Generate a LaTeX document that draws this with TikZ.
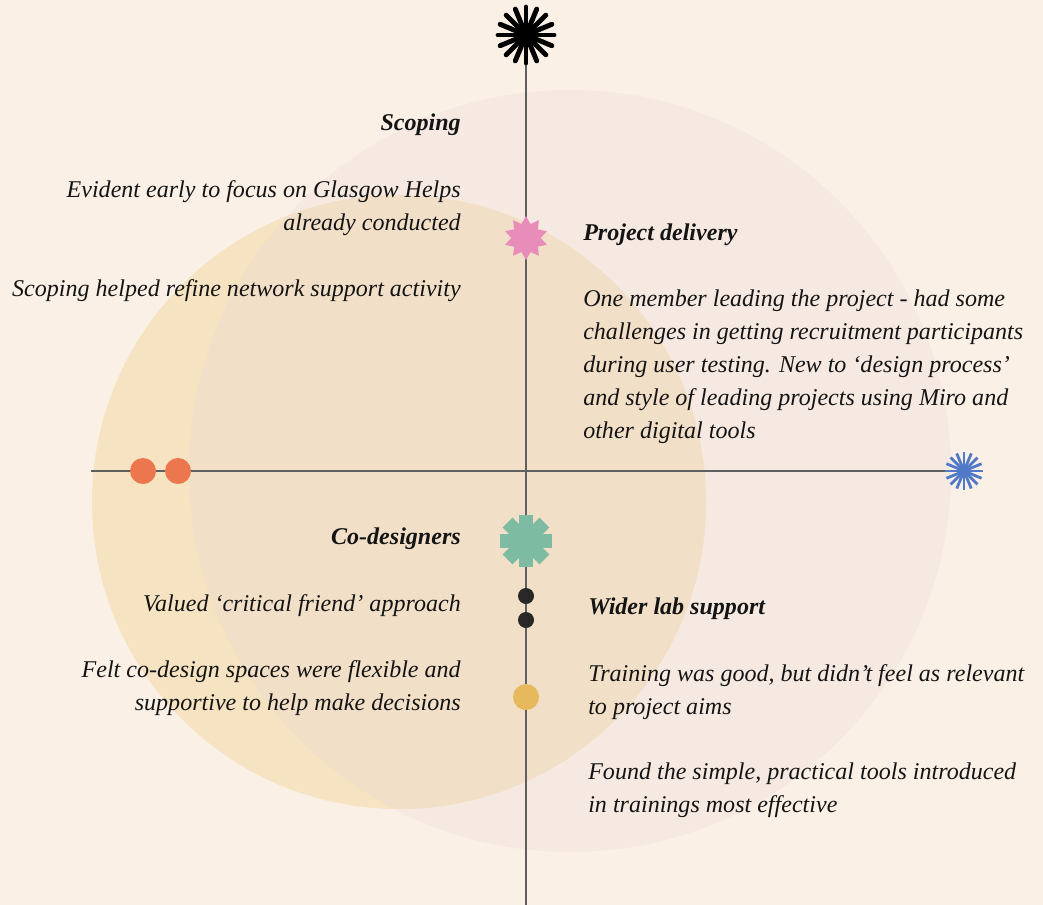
\documentclass[tikz,border=0pt]{standalone}
\usepackage{fontspec}
\setmainfont{Liberation Serif}
\usetikzlibrary{shapes.geometric}
\definecolor{paper}{RGB}{250,240,230}
\definecolor{blush}{RGB}{246,233,226}
\definecolor{sand}{RGB}{245,227,193}
\definecolor{overlap}{RGB}{242,223,200}
\definecolor{axisgrey}{RGB}{95,95,95}
\definecolor{ink}{RGB}{20,20,20}
\definecolor{rose}{RGB}{232,140,186}
\definecolor{sage}{RGB}{126,187,163}
\definecolor{coral}{RGB}{236,118,78}
\definecolor{mustard}{RGB}{229,185,92}
\definecolor{charcoal}{RGB}{40,40,40}
\definecolor{cornflower}{RGB}{80,122,200}
\tikzset{
  note/.style={font=\fontsize{17.1}{23.4}\selectfont\itshape, inner sep=0pt, text=ink},
  head/.style={note, font=\fontsize{17.1}{23.4}\selectfont\itshape\bfseries},
  dot/.style={circle, inner sep=0pt, minimum size=#1},
  axis/.style={draw=axisgrey, line width=1.4pt},
}
\begin{document}
\begin{tikzpicture}[x=0.025cm, y=-0.025cm]
\useasboundingbox (0,0) rectangle (1043,905);
\fill[paper] (0,0) rectangle (1043,905);
% circles
\fill[blush] (570,471) circle (381);
\fill[sand] (399,502) circle (307);
\begin{scope}
\clip (570,471) circle (381);
\fill[overlap] (399,502) circle (307);
\end{scope}
% axes
\coordinate (top) at (526,35);
\coordinate (bot) at (526,905);
\coordinate (west) at (91,471);
\coordinate (east) at (964,471);
\draw[axis] (top) -- (bot);
\draw[axis] (west) -- (east);
% markers
\foreach \a in {0,22.5,...,337.5}
  \draw[line width=3.5pt, line cap=round] (top) -- ++(\a:28);
\foreach \a in {0,22.5,...,337.5}
  \draw[cornflower, line width=2pt] (east) -- ++(\a:19);
\node[star, star points=10, star point ratio=1.5, fill=rose, minimum size=1.1cm, inner sep=0pt] (delivery) at (526,238) {};
\begin{scope}[shift={(526,541)}]
\foreach \a in {0,45,90,135}
  \fill[sage, rotate=\a] (-26,-7) rectangle (26,7);
\end{scope}
\node[dot=0.4cm, fill=charcoal] (lab1) at (526,596) {};
\node[dot=0.4cm, fill=charcoal] (lab2) at (526,620) {};
\node[dot=0.65cm, fill=mustard] (lab3) at (526,697) {};
\node[dot=0.65cm, fill=coral] (co1) at (143,471) {};
\node[dot=0.65cm, fill=coral] (co2) at (178,471) {};
% texts
\node[head, anchor=north east] (scoping) at (461,114) {Scoping};
\node[note, anchor=north east, align=right] (scopingA) at (461,180) {Evident early to focus on Glasgow Helps\\already conducted};
\node[note, anchor=north east, align=right] (scopingB) at (461,279) {Scoping helped refine network support activity};
\node[head, anchor=north west] (projdel) at (583,224) {Project delivery};
\node[note, anchor=north west, align=left] (projdelA) at (583,290) {One member leading the project - had some\\challenges in getting recruitment participants\\during user testing. New to ‘design process’\\and style of leading projects using Miro and\\other digital tools};
\node[head, anchor=north east] (codes) at (461,528) {Co-designers};
\node[note, anchor=north east, align=right] (codesA) at (461,594) {Valued ‘critical friend’ approach};
\node[note, anchor=north east, align=right] (codesB) at (461,660) {Felt co-design spaces were flexible and\\supportive to help make decisions};
\node[head, anchor=north west] (wider) at (588,598) {Wider lab support};
\node[note, anchor=north west, align=left] (widerA) at (588,664) {Training was good, but didn’t feel as relevant\\to project aims};
\node[note, anchor=north west, align=left] (widerB) at (588,763) {Found the simple, practical tools introduced\\in trainings most effective};
\end{tikzpicture}
\end{document}
